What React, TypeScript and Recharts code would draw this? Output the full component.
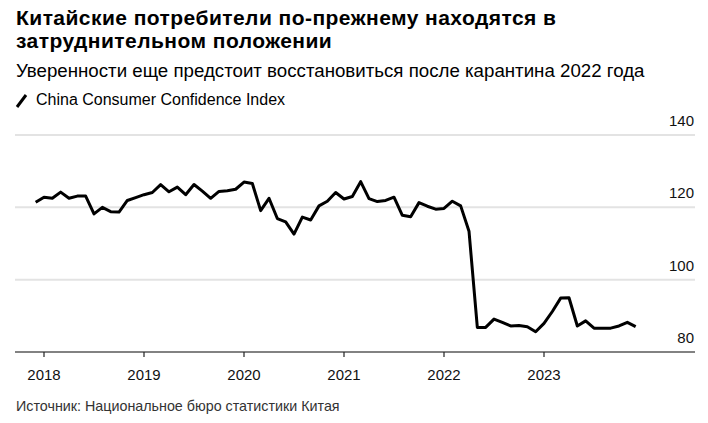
import { LineChart, Line, XAxis, YAxis, CartesianGrid } from 'recharts';

// monthly index readings, one array per year (first year starts in November)
const years = [2017, 2018, 2019, 2020, 2021, 2022, 2023];
const firstMonth = [11, 1, 1, 1, 1, 1, 1];

const values2017 = [121.4, 122.8];
const values2018 = [122.5, 124.2, 122.5, 123.1, 123.1, 118.2, 120.0, 118.8, 118.7, 121.9, 122.7, 123.5];
const values2019 = [124.1, 126.3, 124.3, 125.6, 123.5, 126.3, 124.5, 122.5, 124.4, 124.6, 125.0, 127.0];
const values2020 = [126.6, 119.1, 122.5, 116.9, 116.0, 112.6, 117.3, 116.5, 120.4, 121.7, 124.1, 122.3];
const values2021 = [123.0, 127.1, 122.4, 121.6, 121.9, 122.8, 117.8, 117.4, 121.3, 120.3, 119.5, 119.7];
const values2022 = [121.7, 120.4, 113.4, 86.8, 86.8, 89.1, 88.2, 87.2, 87.3, 87.0, 85.6, 87.9];
const values2023 = [91.2, 94.9, 95.0, 87.2, 88.6, 86.6, 86.6, 86.6, 87.2, 88.2, 87.0];

const yearTicks = [2018, 2019, 2020, 2021, 2022, 2023];
const valueTicks = [80, 100, 120, 140];

const seriesByYear = [values2017, values2018, values2019, values2020, values2021, values2022, values2023];

// each reading sits at the end of its month
const data = years.flatMap((year, i) =>
  seriesByYear[i].map((value, j) => ({ t: year + (firstMonth[i] + j) / 12, value }))
);

const FONT = '"Liberation Sans", Arial, Helvetica, sans-serif';

// place text by its baseline (Liberation Sans ascent/descent)
function Text({ baseline, size, weight = 400, color = '#000', spacing = 0, left = 16, children }: any) {
  return (
    <div
      style={{
        position: 'absolute',
        left,
        top: baseline - size * 0.8465,
        fontSize: size,
        lineHeight: `${size}px`,
        fontWeight: weight,
        letterSpacing: spacing,
        color,
        whiteSpace: 'nowrap',
      }}
    >
      {children}
    </div>
  );
}

function ValueTick({ x, y, payload }: any) {
  return (
    <text x={x - 1} y={y - 9} textAnchor="end" fontSize={15} fill="#111" fontFamily={FONT}>
      {payload.value}
    </text>
  );
}

export default function App() {
  return (
    <div
      style={{
        position: 'absolute',
        left: 0,
        top: 0,
        width: 708,
        height: 423,
        background: '#fff',
        fontFamily: FONT,
        overflow: 'hidden',
      }}
    >
      <Text baseline={25} size={21} weight={700} spacing={0.45}>Китайские потребители по-прежнему находятся в</Text>
      <Text baseline={48} size={21} weight={700} spacing={0.45}>затруднительном положении</Text>
      <Text baseline={78} size={18.7}>Уверенности еще предстоит восстановиться после карантина 2022 года</Text>
      <div style={{ position: 'absolute', left: 15, top: 93 }}>
        <svg width={13} height={16}>
          <line x1={2} y1={14} x2={11} y2={2} stroke="#000" strokeWidth={3} />
        </svg>
      </div>
      <Text baseline={106} size={16} left={36}>China Consumer Confidence Index</Text>

      <div style={{ position: 'absolute', left: 0, top: 0 }}>
        <LineChart width={708} height={423} data={data} margin={{ top: 135, right: 0, bottom: 0, left: 15 }}>
          <CartesianGrid vertical={false} stroke="#e3e3e3" strokeWidth={2} />
          <XAxis
            dataKey="t"
            type="number"
            domain={[2017.71, 2024.51]}
            allowDataOverflow
            ticks={yearTicks}
            tickFormatter={(v: number) => String(v)}
            height={71}
            axisLine={{ stroke: '#222', strokeWidth: 1.2 }}
            tickLine={{ stroke: '#222', strokeWidth: 1.2 }}
            tickSize={5}
            tickMargin={12}
            tick={{ fontSize: 15, fill: '#111', fontFamily: FONT }}
          />
          <YAxis
            orientation="right"
            width={13}
            domain={[80, 140]}
            ticks={valueTicks}
            interval={0}
            axisLine={false}
            tickLine={false}
            tickSize={0}
            tickMargin={0}
            tick={(props: any) => <ValueTick {...props} />}
          />
          <Line
            type="linear"
            dataKey="value"
            stroke="#000"
            strokeWidth={3}
            strokeLinejoin="round"
            dot={false}
            isAnimationActive={false}
          />
        </LineChart>
      </div>

      <Text baseline={411} size={14.3} color="#333">Источник: Национальное бюро статистики Китая</Text>
    </div>
  );
}
